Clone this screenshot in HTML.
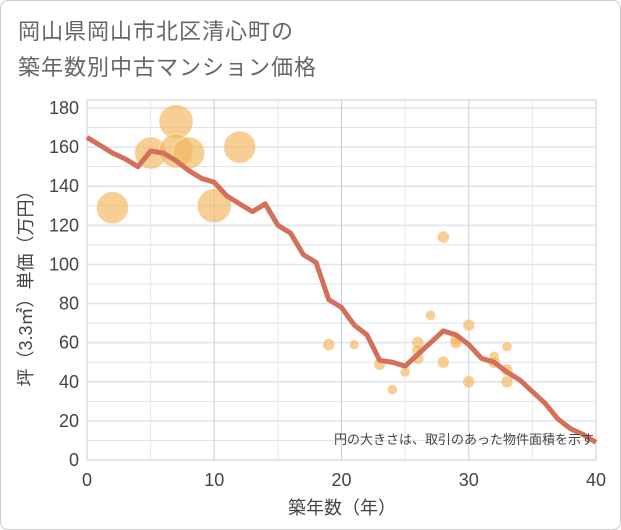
<!DOCTYPE html>
<html><head><meta charset="utf-8"><style>
body{margin:0;background:#fff}
#wrap{position:relative;width:619px;height:528px;border:1px solid #ccc;border-radius:8px;overflow:hidden;background:#fff;font-family:"Liberation Sans","Noto Sans CJK JP",sans-serif}
.title{position:absolute;left:17px;font-size:22px;color:#666;letter-spacing:1px}
</style></head><body>
<div id="wrap">
<div class="title" style="top:13px">岡山県岡山市北区清心町の</div>
<div class="title" style="top:49px">築年数別中古マンション価格</div>
<svg id="chart" width="621" height="530" style="position:absolute;left:-1px;top:-1px"></svg>
</div>
<script>
const lineX=[0,1,2,3,4,5,6,7,8,9,10,11,12,13,14,15,16,17,18,19,20,21,22,23,24,25,26,27,28,29,30,31,32,33,34,35,36,37,38,39,40];
const lineY=[165,161,157,154,150,158,157,153,148,144,142,135,131,127,131,120,116,105,101,82,78,69,64,51,50,48,54,60,66,64,59,52,50,45,41,35,29,21,16,13,9];
const bubX=[2,5,7,7,8,10,12,19,21,23,24,25,26,26,26,27,28,28,29,29,30,30,32,32,33,33,33];
const bubY=[129,157,173,158,157,130,160,59,59,49,36,45,60,56,52,74,114,50,62,60,69,40,53,50,58,46,40];
const bubR=[16,16,17,17,16,17,16,6,5,6,5,5,6,6,6,5,6,6,6,6,6,6,5,6,5,6,6];
const xTicks=[0,10,20,30,40];
const yTicks=[0,20,40,60,80,100,120,140,160,180];
const NS='http://www.w3.org/2000/svg';
const svg=document.getElementById('chart');
const X0=87,X1=596,Y0=460,Y1=108;
const sx=v=>X0+(v/40)*(X1-X0);
const sy=v=>Y0-(v/180)*(Y0-Y1);
function mk(t,a,p){const e=document.createElementNS(NS,t);for(const k in a)e.setAttribute(k,a[k]);(p||svg).appendChild(e);return e;}
const bg=mk('rect',{x:X0,y:100,width:X1-X0,height:Y0-100,fill:'#fff',stroke:'#ccc'});


for(let v=10;v<=180;v+=10){const l=mk('line',{x1:X0,x2:X1,y1:sy(v),y2:sy(v),stroke:'#dde4ee','stroke-width':v%20?1:1.5});

}
for(let v=5;v<40;v+=5){const l=mk('line',{x1:sx(v),x2:sx(v),y1:100,y2:Y0,stroke:v%10?'#e4e9f0':'#c5d0dc','stroke-width':1});

}
yTicks.forEach(v=>{const t=mk('text',{x:X0-8,y:sy(v)+6,'text-anchor':'end','font-size':18,fill:'#444'});t.textContent=v;

});
xTicks.forEach(v=>{const t=mk('text',{x:sx(v),y:Y0+26,'text-anchor':'middle','font-size':18,fill:'#444'});t.textContent=v;

});
bubX.forEach((v,i)=>{const c=mk('circle',{cx:sx(v),cy:sy(bubY[i]),r:bubR[i],fill:'#f2b55a','fill-opacity':0.65,stroke:'#fff','stroke-opacity':0.4});

});
const pl=mk('polyline',{points:lineX.map((v,i)=>sx(v)+','+sy(lineY[i])).join(' '),fill:'none',stroke:'#d4705a','stroke-width':5,'stroke-linejoin':'round'});


const note=mk('text',{x:594,y:444,'text-anchor':'end','font-size':13,fill:'#444'});note.textContent='円の大きさは、取引のあった物件面積を示す';


const xt=mk('text',{x:342,y:514,'text-anchor':'middle','font-size':18,fill:'#444'});xt.textContent='築年数（年）';


const yt=mk('text',{x:0,y:0,'text-anchor':'middle','font-size':18,fill:'#444',transform:'translate(32,284) rotate(-90)'});yt.textContent='坪（3.3㎡）単価（万円）';


</script>
</body></html>
